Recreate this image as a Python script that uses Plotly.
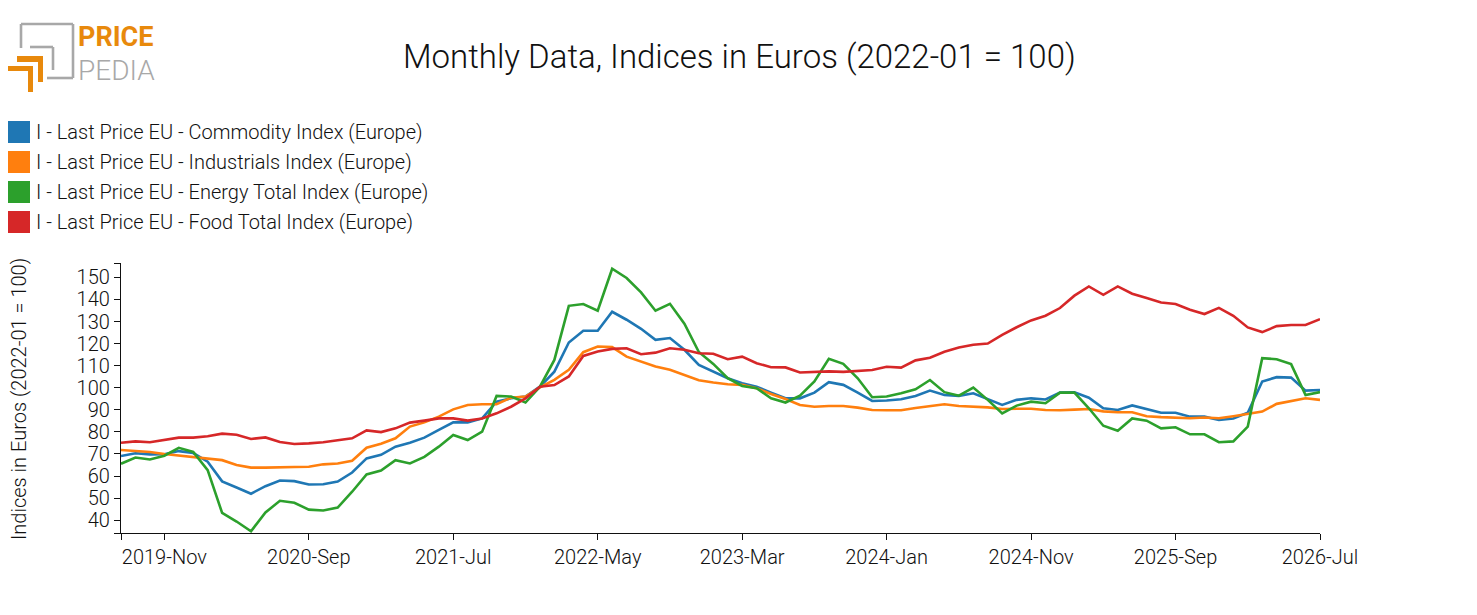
import pandas as pd
import plotly.graph_objects as go

# monthly series, 2019-Aug .. 2026-Jul (2022-01 = 100)
months = pd.date_range("2019-08-01", "2026-07-01", freq="MS").strftime("%Y-%b").tolist()

commodity = [69.1, 70.3, 69.8, 69.9, 71.3, 70.4, 66.5, 57.6, 54.8, 52.0, 55.4, 58.0, 57.7, 56.2,
             56.3, 57.5, 61.6, 68.0, 69.6, 73.3, 75.1, 77.4, 80.9, 84.3, 84.3, 86.1, 93.7, 95.2,
             96.0, 100.5, 107.3, 120.5, 125.8, 125.8, 134.4, 130.8, 126.7, 121.7, 122.5, 117.2,
             110.3, 107.3, 104.3, 102.0, 100.5, 97.8, 95.2, 95.2, 97.8, 102.5, 101.3, 97.8, 94.0,
             94.2, 94.8, 96.3, 98.7, 96.7, 96.3, 97.5, 94.9, 92.2, 94.5, 95.2, 94.7, 97.8, 97.9,
             95.5, 90.7, 89.9, 92.0, 90.5, 88.7, 88.7, 86.9, 86.9, 85.4, 86.1, 88.7, 102.8, 104.8,
             104.6, 98.7, 99.0]
industrials = [71.8, 71.5, 70.9, 70.0, 69.3, 68.6, 68.1, 67.2, 65.0, 63.8, 63.8, 63.8, 64.1, 64.2,
               65.3, 65.7, 66.9, 72.8, 74.6, 77.1, 82.4, 84.3, 86.9, 90.2, 92.2, 92.5, 92.5, 95.5,
               96.0, 100.2, 103.6, 108.1, 116.1, 118.7, 118.4, 114.1, 111.9, 109.6, 108.1, 105.8,
               103.4, 102.4, 101.6, 101.3, 99.8, 97.2, 94.9, 92.2, 91.4, 91.7, 91.7, 91.0, 89.9,
               89.8, 89.8, 90.8, 91.6, 92.5, 91.7, 91.4, 91.1, 90.4, 90.5, 90.5, 89.9, 89.8, 90.1,
               90.4, 89.3, 88.9, 88.9, 87.1, 86.7, 86.5, 86.2, 86.5, 86.2, 87.1, 88.2, 89.2, 92.7,
               94.0, 95.2, 94.5]
energy = [65.6, 68.4, 67.5, 69.2, 72.8, 70.9, 62.7, 43.3, 39.4, 35.0, 43.5, 48.8, 47.9, 44.8,
          44.4, 45.7, 52.9, 60.7, 62.5, 67.2, 65.7, 68.7, 73.3, 78.6, 76.3, 80.1, 96.3, 96.0,
          93.3, 100.5, 112.6, 137.1, 137.9, 134.9, 153.9, 149.7, 143.2, 134.9, 138.0, 129.0,
          116.2, 110.8, 104.3, 100.8, 99.8, 95.2, 93.3, 96.4, 102.8, 113.1, 110.8, 104.3, 95.7,
          96.0, 97.5, 99.3, 103.5, 98.0, 96.4, 100.1, 94.5, 88.4, 91.9, 93.7, 93.0, 97.8, 97.8,
          90.7, 82.8, 80.5, 86.1, 85.1, 81.6, 82.1, 78.9, 78.9, 75.3, 75.7, 82.4, 113.4, 112.9,
          110.7, 96.7, 98.0]
food = [75.1, 75.7, 75.3, 76.3, 77.4, 77.4, 78.0, 79.2, 78.7, 76.8, 77.5, 75.4, 74.5, 74.8,
        75.3, 76.2, 77.1, 80.7, 79.9, 81.6, 84.2, 85.1, 86.1, 86.1, 85.1, 86.1, 88.4, 91.4,
        95.2, 100.5, 101.2, 105.1, 114.4, 116.4, 117.6, 117.9, 115.2, 115.9, 117.9, 117.2,
        115.6, 115.4, 112.9, 114.1, 111.1, 109.3, 109.2, 106.9, 107.2, 107.4, 107.2, 107.5,
        108.0, 109.5, 109.1, 112.4, 113.6, 116.3, 118.2, 119.5, 120.0, 123.9, 127.4, 130.5,
        132.6, 136.1, 141.7, 145.9, 142.1, 145.9, 142.6, 140.6, 138.6, 137.9, 135.3, 133.4,
        136.2, 132.6, 127.3, 125.2, 127.9, 128.4, 128.4, 131.1]

names = ["I - Last Price EU - Commodity Index (Europe)",
         "I - Last Price EU - Industrials Index (Europe)",
         "I - Last Price EU - Energy Total Index (Europe)",
         "I - Last Price EU - Food Total Index (Europe)"]
colors = ["#1f77b4", "#ff7f0e", "#2ca02c", "#d62728"]

tick_labels = ["2019-Nov", "2020-Sep", "2021-Jul", "2022-May", "2023-Mar",
               "2024-Jan", "2024-Nov", "2025-Sep", "2026-Jul"]
y_ticks = [40, 50, 60, 70, 80, 90, 100, 110, 120, 130, 140, 150]
y_lo, y_hi = 34.2, 156.5

# page pixels of the plot box (the page body adds an 8px offset)
OFF = 8
W, H = 1477, 615
L, R, T, B = 121, 1320, 263, 533


def px(x):
    return (x - L) / (R - L)


def py(y):
    return (B - y) / (B - T)


FONT = "Roboto Light, Roboto"
fig = go.Figure()
for vals, name, col in zip([commodity, industrials, energy, food], names, colors):
    fig.add_trace(go.Scatter(x=months, y=vals, mode="lines", name=name,
                             line=dict(color=col, width=2.6), showlegend=False))

shapes = []
annotations = []

# legend (square swatches like the original)
for k, (name, col) in enumerate(zip(names, colors)):
    yc = 132 + 30 * k
    shapes.append(dict(type="rect", xref="paper", yref="paper",
                       x0=px(8), x1=px(30), y0=py(yc + 11), y1=py(yc - 11),
                       fillcolor=col, line=dict(width=0)))
    annotations.append(dict(text=name, xref="paper", yref="paper", x=px(34), y=py(yc),
                            xanchor="left", yanchor="middle", showarrow=False,
                            font=dict(family=FONT, size=20, color="#111", weight=300)))

# title
annotations.append(dict(text="Monthly Data, Indices in Euros (2022-01 = 100)",
                        xref="paper", yref="paper", x=px(739), y=py(57),
                        xanchor="center", yanchor="middle", showarrow=False,
                        font=dict(family=FONT, size=33, color="#111", weight=300)))

# y axis title
annotations.append(dict(text="Indices in Euros (2022-01 = 100)", textangle=-90,
                        xref="paper", yref="paper", x=px(19), y=py(399),
                        xanchor="center", yanchor="middle", showarrow=False,
                        font=dict(family=FONT, size=20, color="#111", weight=300)))

# logo
grey = "#a8a8a8"
orange = "#e8890c"
for x0, y0, x1, y1 in [(21, 24, 73, 24), (73, 24, 73, 78), (47, 78, 73, 78), (21, 24, 21, 48),
                       (30, 47, 53, 47), (53, 47, 53, 70)]:
    shapes.append(dict(type="line", xref="paper", yref="paper",
                       x0=px(x0), y0=py(y0), x1=px(x1), y1=py(y1),
                       line=dict(color=grey, width=2.6)))
for x0, y0, x1, y1 in [(17, 56, 43, 62), (38, 56, 43, 82), (8, 66, 33, 71), (28, 66, 33, 92)]:
    shapes.append(dict(type="rect", xref="paper", yref="paper",
                       x0=px(x0), y0=py(y0), x1=px(x1), y1=py(y1),
                       fillcolor=orange, line=dict(width=0)))
annotations.append(dict(text="<b>PRICE</b>", xref="paper", yref="paper", x=px(76), y=py(55),
                        xanchor="left", yanchor="bottom", showarrow=False,
                        font=dict(family="Roboto", size=27, color=orange)))
annotations.append(dict(text="PEDIA", xref="paper", yref="paper", x=px(76), y=py(52),
                        xanchor="left", yanchor="top", showarrow=False,
                        font=dict(family=FONT, size=28, color=grey, weight=300)))

fig.update_layout(
    width=W, height=H,
    margin=dict(l=L - OFF, r=W - R + OFF, t=T - OFF, b=H - B + OFF),
    paper_bgcolor="white", plot_bgcolor="white",
    shapes=shapes, annotations=annotations,
    font=dict(family=FONT, color="#111"),
    hovermode="x",
)
fig.update_xaxes(
    type="category", range=[0, len(months) - 1],
    tickvals=[months[0]] + tick_labels, ticktext=[""] + tick_labels,
    showline=True, linecolor="#111", linewidth=1.3,
    ticks="outside", ticklen=6, tickcolor="#111", tickwidth=1.3,
    showgrid=False, zeroline=False,
    tickfont=dict(family=FONT, size=20, color="#111", weight=300),
)
fig.update_yaxes(
    range=[y_lo, y_hi],
    tickvals=[y_lo] + y_ticks + [y_hi], ticktext=[""] + [str(v) for v in y_ticks] + [""],
    showline=True, linecolor="#111", linewidth=1.3,
    ticks="outside", ticklen=6, tickcolor="#111", tickwidth=1.3,
    showgrid=False, zeroline=False,
    tickfont=dict(family=FONT, size=20, color="#111", weight=300),
)

fig.write_html("out.html")
